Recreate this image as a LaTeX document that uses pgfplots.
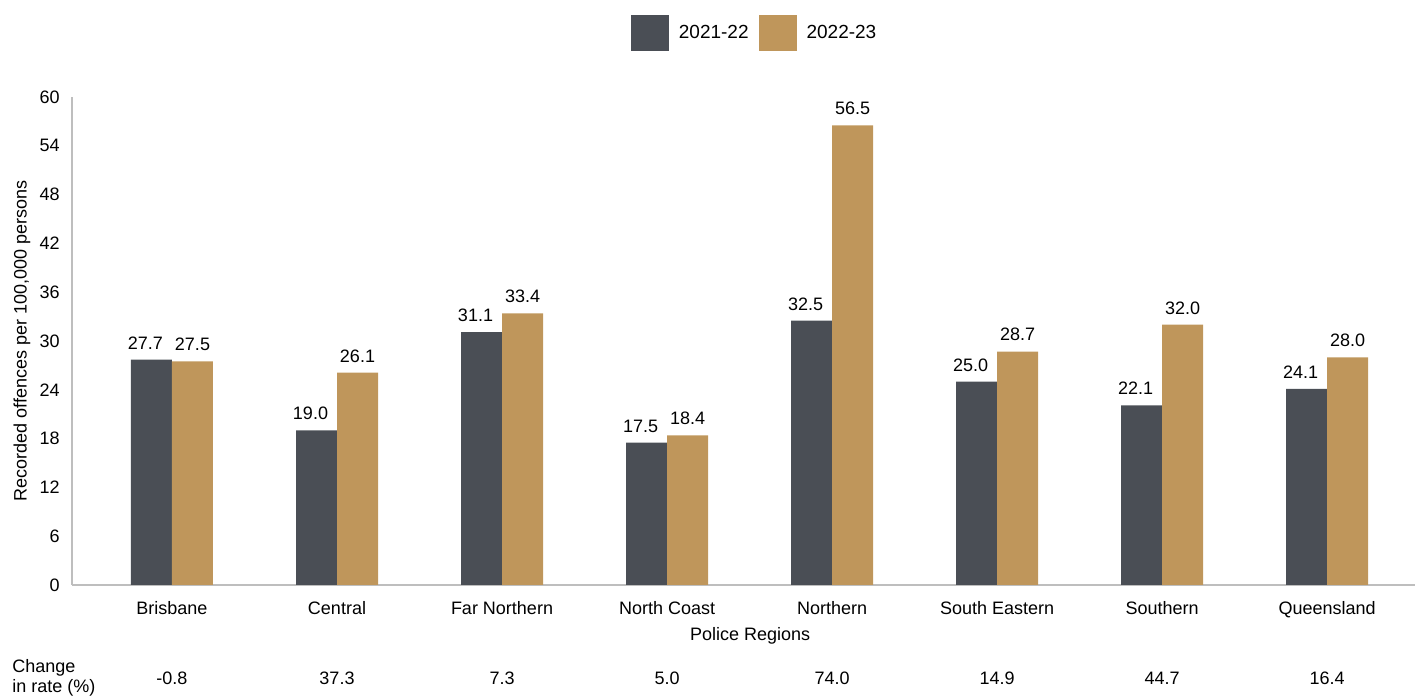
\documentclass[border=0pt]{standalone}
\usepackage{pgfplots}
\pgfplotsset{compat=1.18}
\usepackage{fontspec}
\setmainfont{Liberation Sans}

\definecolor{dark}{RGB}{74,78,85}
\definecolor{gold}{RGB}{191,150,91}
\definecolor{axisgray}{RGB}{190,190,190}

\begin{document}
\fontsize{9}{10}\selectfont
\begin{tikzpicture}
\begin{axis}[name=ax, at={(0,0)}, anchor=south west,
  scale only axis, width=671.5pt, height=244pt,
  ybar=0pt, bar width=20.5pt,
  xmin=-0.606, xmax=7.533, ymin=0, ymax=60,
  axis x line*=bottom, axis y line*=left,
  x axis line style={-, axisgray, line width=0.8pt},
  y axis line style={-, axisgray, line width=0.8pt},
  major tick length=0pt,
  ytick={0,6,...,60},
  xtick={0,...,7},
  xticklabels={Brisbane,Central,Far Northern,North Coast,Northern,South Eastern,Southern,Queensland},
  /pgf/number format/assume math mode=true,
  tick label style={font=\fontsize{9}{10}\selectfont},
  yticklabel style={xshift=-3pt},
  xticklabel style={yshift=-5pt},
  xlabel={Police Regions},
  ylabel={Recorded offences per 100,000 persons},
  every axis x label/.style={at={(axis description cs:0.505,0)}, anchor=center, yshift=-25.5pt},
  every axis y label/.style={at={(axis description cs:0,0.5)}, rotate=90, anchor=center, yshift=25pt},
  nodes near coords={\pgfmathprintnumber[fixed,fixed zerofill,precision=1,assume math mode=true]{\pgfplotspointmeta}},
  every node near coord/.append style={font=\fontsize{9}{10}\selectfont, text=black, yshift=2pt},
  legend style={at={(0.509,1)}, anchor=center, yshift=32pt, draw=none, fill=none,
    legend columns=2, font=\fontsize{9.5}{11}\selectfont,
    /tikz/every odd column/.append style={column sep=3pt},
    /tikz/every even column/.append style={column sep=3pt}},
  every axis plot post/.append style={legend image code/.code={\fill[##1] (0pt,-9pt) rectangle (19pt,9pt);}},
  clip=false,
]
\addplot[fill=dark, draw=none, every node near coord/.append style={xshift=-3pt}] coordinates {
  (0,27.7) (1,19.0) (2,31.1) (3,17.5) (4,32.5) (5,25.0) (6,22.1) (7,24.1)};
\addlegendentry{2021-22}
\addplot[fill=gold, draw=none] coordinates {
  (0,27.5) (1,26.1) (2,33.4) (3,18.4) (4,56.5) (5,28.7) (6,32.0) (7,28.0)};
\addlegendentry{2022-23}

% change in rate row
\node at (axis cs:0,0) [yshift=-46.5pt] {-0.8};
\node at (axis cs:1,0) [yshift=-46.5pt] {37.3};
\node at (axis cs:2,0) [yshift=-46.5pt] {7.3};
\node at (axis cs:3,0) [yshift=-46.5pt] {5.0};
\node at (axis cs:4,0) [yshift=-46.5pt] {74.0};
\node at (axis cs:5,0) [yshift=-46.5pt] {14.9};
\node at (axis cs:6,0) [yshift=-46.5pt] {44.7};
\node at (axis cs:7,0) [yshift=-46.5pt] {16.4};
\node[align=left, anchor=west, inner sep=0pt] at (axis description cs:0,0) [xshift=-30pt, yshift=-46.5pt] {Change\\in rate (\%)};
\end{axis}
\pgfresetboundingbox
\path[use as bounding box] ([shift={(-36pt,-57.5pt)}]ax.south west) rectangle ++(709pt,350pt);
\end{tikzpicture}
\end{document}
